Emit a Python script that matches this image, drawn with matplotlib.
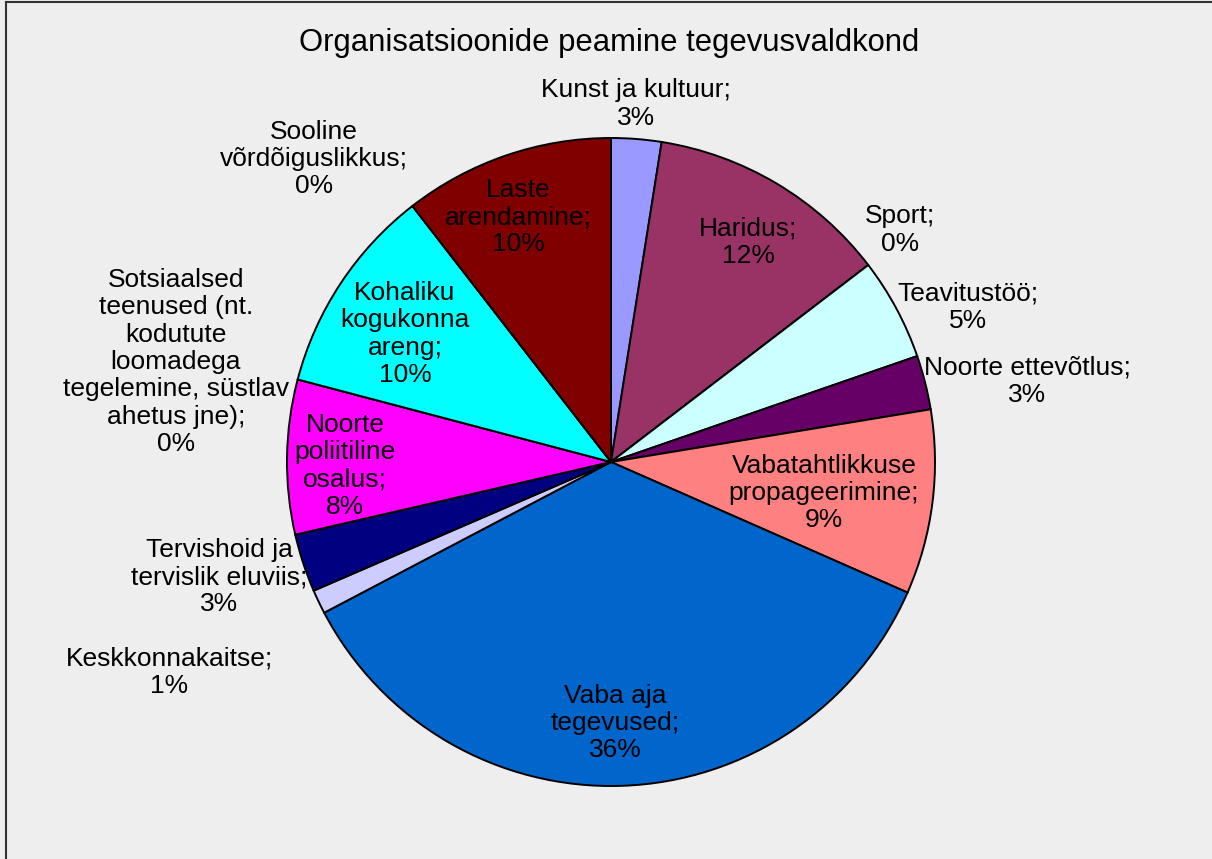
import numpy as np
import matplotlib.pyplot as plt
from matplotlib.lines import Line2D

plt.rcParams['font.family'] = ['Liberation Sans', 'DejaVu Sans']

# data, clockwise from 12 o'clock
categories = ['Kunst ja kultuur', 'Haridus', 'Sport', 'Teavitustöö',
              'Noorte ettevõtlus', 'Vabatahtlikkuse propageerimine',
              'Vaba aja tegevused', 'Keskkonnakaitse',
              'Tervishoid ja tervislik eluviis', 'Noorte poliitiline osalus',
              'Sotsiaalsed teenused', 'Kohaliku kogukonna areng',
              'Sooline võrdõiguslikkus', 'Laste arendamine']
shares = [2.5, 12.1, 0, 5.1, 2.7, 9.2, 35.7, 1.2, 2.9, 7.7, 0, 10.4, 0, 10.5]
pct_shown = [3, 12, 0, 5, 3, 9, 36, 1, 3, 8, 0, 10, 0, 10]

# label text as printed (line breaks), positions in pixels (x, y from top)
label_text = ['Kunst ja kultuur;', 'Haridus;', 'Sport;', 'Teavitustöö;',
              'Noorte ettevõtlus;', 'Vabatahtlikkuse\npropageerimine;',
              'Vaba aja\ntegevused;', 'Keskkonnakaitse;',
              'Tervishoid ja\ntervislik eluviis;', 'Noorte\npoliitiline\nosalus;',
              'Sotsiaalsed\nteenused (nt.\nkodutute\nloomadega\ntegelemine, süstlav\nahetus jne);',
              'Kohaliku\nkogukonna\nareng;', 'Sooline\nvõrdõiguslikkus;',
              'Laste\narendamine;']
label_xy = [(636, 104), (748, 242), (900, 230), (968, 307), (1027, 381),
            (824, 493), (615, 723), (169, 672), (219, 577), (345, 466),
            (176, 362), (405, 334), (314, 159), (518, 217)]

colors = ['#9999FF', '#993366', '#FFFFCC', '#CCFFFF', '#660066', '#FF8080',
          '#0066CC', '#CCCCFF', '#000080', '#FF00FF', '#FFFF00', '#00FFFF',
          '#800080', '#800000']

W, H = 1212, 859
bg = '#EEEEEE'
fig = plt.figure(figsize=(W / 100, H / 100), dpi=100, facecolor=bg)
ax = fig.add_axes([0, 0, 1, 1])
ax.set_facecolor(bg)
ax.set_xlim(0, W)
ax.set_ylim(0, H)
ax.set_aspect('equal')
ax.axis('off')

cx, cy, R = 611, 462, 324
ax.pie(shares, colors=colors, startangle=90, counterclock=False,
       center=(cx, H - cy), radius=R, normalize=True,
       wedgeprops=dict(edgecolor='black', linewidth=1.4))
ax.set_xlim(0, W)
ax.set_ylim(0, H)

for txt, p, (x, y) in zip(label_text, pct_shown, label_xy):
    ax.text(x, H - y, txt + '\n' + str(p) + '%', ha='center', va='center',
            fontsize=19, linespacing=1.18, color='black')

ax.text(609, H - 43, 'Organisatsioonide peamine tegevusvaldkond',
        ha='center', va='center', fontsize=22.3)

# chart frame (left and top edges visible)
fig.add_artist(Line2D([6 / W, 6 / W], [0, 1 - 2 / H], color='#333333', lw=1.5))
fig.add_artist(Line2D([6 / W, 1], [1 - 2 / H, 1 - 2 / H], color='#333333', lw=1.5))

fig.savefig('out.png', dpi=100, facecolor=bg)
